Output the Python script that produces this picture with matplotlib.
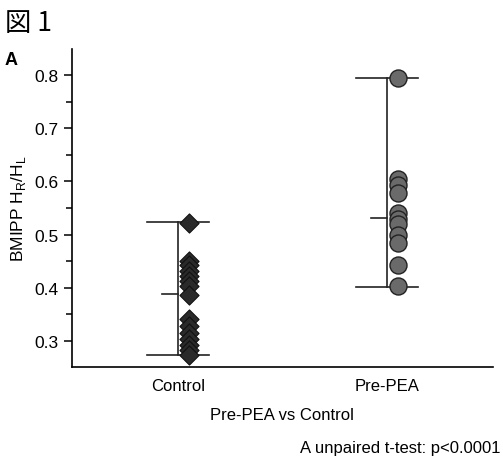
import matplotlib
matplotlib.use('Agg')
import matplotlib.pyplot as plt
from matplotlib.ticker import MultipleLocator

plt.rcParams['font.family'] = ['Liberation Sans', 'Noto Sans CJK JP', 'DejaVu Sans']

groups = ['Control', 'Pre-PEA']
control = [0.522, 0.450, 0.442, 0.432, 0.422, 0.412, 0.403, 0.386,
           0.342, 0.328, 0.315, 0.303, 0.292, 0.282, 0.274]
pre_pea = [0.795, 0.605, 0.594, 0.578, 0.541, 0.530, 0.520, 0.500,
           0.484, 0.442, 0.404]
# range line (min, max) and centre tick for each group
ranges = [(0.273, 0.523), (0.402, 0.794)]
centres = [0.388, 0.531]

fig = plt.figure(figsize=(5.03, 4.64), dpi=100)
ax = fig.add_axes([0.143, 0.207, 0.837, 0.685])

for i, (lo, hi) in enumerate(ranges):
    x = i + 1
    ax.plot([x, x], [lo, hi], color='#222222', lw=1.2, zorder=1)
    ax.plot([x - 0.15, x + 0.15], [lo, lo], color='#222222', lw=1.2, zorder=1)
    ax.plot([x - 0.15, x + 0.15], [hi, hi], color='#222222', lw=1.2, zorder=1)
    ax.plot([x - 0.075, x], [centres[i], centres[i]], color='#222222', lw=1.2, zorder=1)

ax.scatter([1.053] * len(control), control, marker='D', s=95,
           color='#2a2a2a', edgecolors='#111111', linewidths=0.8, zorder=3)
ax.scatter([2.053] * len(pre_pea), pre_pea, marker='o', s=150,
           color='#6a6a6a', edgecolors='#222222', linewidths=1.0, zorder=3)

ax.set_xlim(0.493, 2.507)
ax.set_ylim(0.251, 0.849)
ax.set_xticks([1, 2])
ax.set_xticklabels(groups, fontsize=12)
ax.tick_params(axis='x', length=0, pad=8)
ax.yaxis.set_major_locator(MultipleLocator(0.1))
ax.yaxis.set_minor_locator(MultipleLocator(0.05))
ax.tick_params(axis='y', which='major', length=6, width=1.1, labelsize=12.5)
ax.tick_params(axis='y', which='minor', length=4, width=1.1)
ax.spines['top'].set_visible(False)
ax.spines['right'].set_visible(False)
ax.spines['left'].set_linewidth(1.2)
ax.spines['bottom'].set_linewidth(1.2)

ax.set_ylabel('BMIPP H$_\\mathregular{R}$/H$_\\mathregular{L}$', fontsize=12.5, labelpad=5)
ax.set_xlabel('Pre-PEA vs Control', fontsize=12, labelpad=10)

fig.text(0.01, 0.978, '図 1', fontsize=19, va='top', ha='left',
         family=['Noto Sans CJK JP', 'DejaVu Sans'])
fig.text(0.01, 0.888, 'A', fontsize=13, fontweight='bold', va='top', ha='left')
fig.text(0.995, 0.033, 'A unpaired t-test: p<0.0001', fontsize=12, ha='right', va='center')

fig.savefig('out.png', dpi=100)
